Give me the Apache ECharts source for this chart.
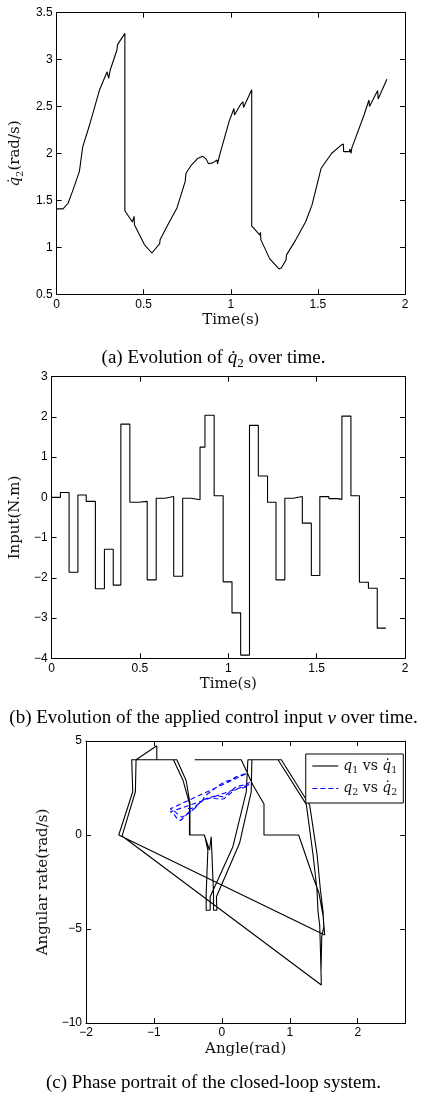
<!DOCTYPE html>
<html><head><meta charset="utf-8">
<script src="https://cdn.jsdelivr.net/npm/echarts@6/dist/echarts.min.js"></script>
<style>html,body{margin:0;padding:0;background:#fff}#c{width:427px;height:1097px}</style>
</head><body><div id="c"></div>
<script>
// ---------- Panel (a): q2dot over time ----------
const timeA = [0,0.037,0.066,0.094,0.131,0.15,0.187,0.247,0.29,0.299,0.308,0.346,0.35,0.392,
  0.392,0.435,0.445,0.447,0.504,0.547,0.558,0.592,0.594,0.644,0.691,0.738,0.743,0.775,0.812,0.84,0.859,0.872,0.896,0.921,0.924,0.934,0.99,1.018,1.021,1.055,1.07,1.073,1.12,
  1.12,1.167,1.17,1.173,1.223,1.276,1.29,1.317,1.32,1.373,1.429,1.466,1.518,1.578,1.634,1.646,1.648,1.681,1.684,1.69,1.695,1.765,1.793,1.796,1.843,1.846,1.896];
const q2dot = [1.41,1.41,1.47,1.61,1.81,2.07,2.29,2.68,2.87,2.80,2.89,3.10,3.16,3.28,
  1.39,1.27,1.33,1.24,1.03,0.94,0.95,1.04,1.08,1.26,1.42,1.70,1.79,1.88,1.95,1.97,1.94,1.89,1.90,1.93,1.89,1.97,2.34,2.48,2.41,2.52,2.55,2.49,2.68,
  1.23,1.13,1.16,1.08,0.88,0.77,0.78,0.865,0.92,1.08,1.27,1.45,1.84,2.00,2.09,2.10,2.02,2.02,2.05,2.00,2.06,2.41,2.57,2.50,2.67,2.58,2.79];

// ---------- Panel (b): piecewise-constant control input ----------
const stepTimes = [0,0.05,0.099,0.149,0.196,0.248,0.299,0.349,0.392,0.443,0.491,0.541,0.592,0.641,0.691,0.742,0.79,0.84,0.868,0.92,0.971,1.021,1.07,1.12,1.17,1.222,1.27,1.32,1.369,1.419,1.47,1.518,1.569,1.62,1.643,1.694,1.742,1.793,1.843,1.892];
const stepInput = [0,0.12,-1.86,0.06,-0.1,-2.27,-1.29,-2.18,1.82,-0.12,-0.1,-2.05,-0.02,0.02,-1.96,-0.02,-0.06,1.25,2.04,0.04,-2.1,-2.87,-3.92,1.79,0.53,-0.12,-2.05,-0.02,0.02,-0.64,-1.94,0.02,-0.03,-0.05,2.02,0.04,-2.11,-2.26,-3.25];

// ---------- Panel (c): phase portrait ----------
const q1Angle = [-0.40,0.285,0.457,0.62,0.62,1.13,1.341,1.43,1.49,1.514,
  -1.518,-1.312,-1.327,-0.713,-0.574,-0.477,-0.477,-0.256,-0.206,-0.231,-0.231,-0.172,-0.172,0.162,0.359,0.383,0.826,1.243,1.34,1.40,1.415,1.44,1.45,1.464,
  -1.469,-1.273,-1.263,-0.958,-0.958,-0.663,-0.526,-0.47,-0.47,-0.26,-0.182,-0.157,-0.123,-0.123,-0.074,-0.08,0.26,0.432,0.442,0.875,1.292,1.40,1.45,1.49,1.50,1.47,1.46];
const q1Rate = [4.0,4.0,2.66,1.65,0,0,-2.22,-3.1,-4.3,-5.32,
  0,2.30,4.0,4.0,2.93,1.68,0,0,-0.8,-3.1,-4.0,-4.0,-3.28,-0.62,2.30,4.0,4.0,1.63,-1.0,-2.9,-4.08,-4.79,-6.0,-7.98,
  -0.05,2.30,4.0,4.75,4.0,4.0,2.90,1.68,0,0,-0.8,-0.1,-3.1,-4.0,-4.0,-3.28,-0.44,2.30,4.0,4.0,1.60,-1.0,-2.9,-4.1,-4.9,-5.4,-7.18];
const q2Angle = [-0.50,-0.45,-0.41,-0.36,-0.29,-0.25,-0.17,-0.03,0.07,0.09,0.11,0.21,0.22,0.37,
  -0.76,-0.70,-0.69,-0.68,-0.63,-0.58,-0.55,-0.54,-0.47,-0.40,-0.33,-0.32,-0.26,-0.19,-0.13,-0.09,-0.07,-0.02,0.03,0.035,0.05,0.17,0.24,0.245,0.32,0.35,0.355,0.40,
  -0.76,-0.71,-0.705,-0.70,-0.66,-0.61,-0.60,-0.58,-0.575,-0.52,-0.45,-0.39,-0.30,-0.18,-0.07,-0.05,-0.045,0.02,0.025,0.035,0.045,0.16,0.21,0.215,0.33,0.335,0.41];
const q2Rate = [1.41,1.41,1.47,1.61,1.81,2.07,2.29,2.68,2.87,2.80,2.89,3.10,3.16,3.28,
  1.39,1.27,1.33,1.24,1.04,0.94,1.03,1.08,1.26,1.42,1.70,1.79,1.88,1.95,1.97,1.94,1.89,1.90,1.93,1.89,1.97,2.34,2.48,2.41,2.52,2.55,2.49,2.68,
  1.23,1.13,1.16,1.08,0.88,0.77,0.78,0.865,0.92,1.08,1.27,1.45,1.84,2.00,2.09,2.10,2.02,2.02,2.05,2.00,2.06,2.41,2.57,2.50,2.67,2.58,2.79];

// ---------- axis ranges / ticks ----------
const axA = {x:[0,2,0.5], y:[0.5,3.5,0.5]};
const axB = {x:[0,2,0.5], y:[-4,3,1]};
const axC = {x:[-2,2.7,1], y:[-10,5,5]};
const seriesNames = ['q1 vs q\u03071', 'q2 vs q\u03072'];

const TICK_FONT = 'Liberation Sans';
const NAME_FONT = 'DejaVu Serif';
const CAP_FONT = 'Liberation Serif';
const nameRich = {
  q:{fontFamily:NAME_FONT, fontStyle:'italic', fontSize:15, color:'#111'},
  s:{fontFamily:NAME_FONT, fontSize:10, color:'#111', verticalAlign:'top', padding:[9,0,0,0]}
};
function fmt(interval){
  return function(v){
    const k = Math.round(v/interval);
    if (Math.abs(k*interval - v) > 1e-6) return '';
    let s = String(+v.toFixed(3));
    return s.replace('-', '\u2212');
  };
}
function axes(g, r, xName, yName, xGap, yGap){
  const line = {show:true, onZero:false, lineStyle:{color:'#000', width:1}};
  const tick = {show:true, inside:true, length:5, lineStyle:{color:'#000', width:1}};
  const lab = (iv)=>({show:true, color:'#000', fontFamily:TICK_FONT, fontSize:12, margin:4, formatter:fmt(iv), showMinLabel:true, showMaxLabel:true});
  const nts = {fontFamily:NAME_FONT, fontSize:15, color:'#111', rich:nameRich};
  return {
    x:[
      {gridIndex:g, type:'value', min:r.x[0], max:r.x[1], interval:r.x[2], position:'bottom',
       axisLine:line, axisTick:tick, axisLabel:lab(r.x[2]), splitLine:{show:false},
       name:xName, nameLocation:'middle', nameGap:xGap, nameTextStyle:nts},
      {gridIndex:g, type:'value', min:r.x[0], max:r.x[1], interval:r.x[2], position:'top',
       axisLine:line, axisTick:tick, axisLabel:{show:false}, splitLine:{show:false}}
    ],
    y:[
      {gridIndex:g, type:'value', min:r.y[0], max:r.y[1], interval:r.y[2], position:'left',
       axisLine:line, axisTick:tick, axisLabel:lab(r.y[2]), splitLine:{show:false},
       name:yName, nameLocation:'middle', nameRotate:90, nameGap:yGap, nameTextStyle:nts},
      {gridIndex:g, type:'value', min:r.y[0], max:r.y[1], interval:r.y[2], position:'right',
       axisLine:line, axisTick:tick, axisLabel:{show:false}, splitLine:{show:false}}
    ]
  };
}
const A = axes(0, axA, 'Time(s)', '{q|q\u0307}{s|2}(rad/s)', 18, 25);
const B = axes(1, axB, 'Time(s)', 'Input(N.m)', 18, 24);
const C = axes(2, axC, 'Angle(rad)', 'Angular rate(rad/s)', 19, 29);

const dataA = timeA.map((t,i)=>[t, q2dot[i]]);
const dataB = [];
stepInput.forEach((v,i)=>{ dataB.push([stepTimes[i], v]); dataB.push([stepTimes[i+1], v]); });
const dataC1 = q1Angle.map((a,i)=>[a, q1Rate[i]]);
const dataC2 = q2Angle.map((a,i)=>[a, q2Rate[i]]);

const capStyle = {fontFamily:CAP_FONT, fontSize:19, fontWeight:'normal', color:'#000',
  rich:{
    i:{fontFamily:CAP_FONT, fontStyle:'italic', fontSize:19, color:'#000'},
    s:{fontFamily:CAP_FONT, fontSize:13, color:'#000', verticalAlign:'top', padding:[11,0,0,0]}
  }};

const option = {
  animation:false,
  backgroundColor:'#fff',
  title:[
    {text:'(a) Evolution of {i|q\u0307}{s|2} over time.', left:'center', top:346, textStyle:capStyle, padding:0},
    {text:'(b) Evolution of the applied control input {i|v} over time.', left:'center', top:709, textStyle:capStyle, padding:0},
    {text:'(c) Phase portrait of the closed-loop system.', left:'center', top:1074, textStyle:capStyle, padding:0}
  ],
  grid:[
    {left:48, top:12.7, width:357, height:281.6, containLabel:false},
    {left:48, top:376.7, width:357, height:281.6, containLabel:false},
    {left:86, top:741, width:319.3, height:282, containLabel:false}
  ],
  xAxis:[...A.x, ...B.x, ...C.x],
  yAxis:[...A.y, ...B.y, ...C.y],
  legend:{
    orient:'vertical', right:23.7, top:754, itemWidth:26, itemHeight:12, itemGap:6,
    padding:[5,6,5,6], borderColor:'#000', borderWidth:1, backgroundColor:'#fff',
    data:seriesNames,
    itemStyle:{opacity:0, borderWidth:0},
    lineStyle:{width:1.1},
    formatter:function(n){ const d = n.charAt(1); return '{q|q}{s|'+d+'} vs {q|q\u0307}{s|'+d+'}'; },
    textStyle:{fontFamily:NAME_FONT, fontSize:14, color:'#111', rich:{
      q:{fontFamily:NAME_FONT, fontStyle:'italic', fontSize:14, color:'#111'},
      s:{fontFamily:NAME_FONT, fontSize:9.5, color:'#111', verticalAlign:'top', padding:[9,0,0,0]}
    }}
  },
  series:[
    {type:'line', xAxisIndex:0, yAxisIndex:0, data:dataA, symbol:'none', lineStyle:{color:'#000', width:1.1}, silent:true},
    {type:'line', xAxisIndex:2, yAxisIndex:2, data:dataB, symbol:'none', lineStyle:{color:'#000', width:1.1}, silent:true},
    {type:'line', name:seriesNames[0], xAxisIndex:4, yAxisIndex:4, data:dataC1, symbol:'none', lineStyle:{color:'#000', width:1.1}, itemStyle:{color:'#000'}, silent:true},
    {type:'line', name:seriesNames[1], xAxisIndex:4, yAxisIndex:4, data:dataC2, symbol:'none', lineStyle:{color:'#0000ff', width:1.1, type:[5,3]}, itemStyle:{color:'#0000ff'}, silent:true}
  ]
};
const chart = echarts.init(document.getElementById('c'), null, {renderer:'canvas'});
chart.setOption(option);
</script>
</body></html>
